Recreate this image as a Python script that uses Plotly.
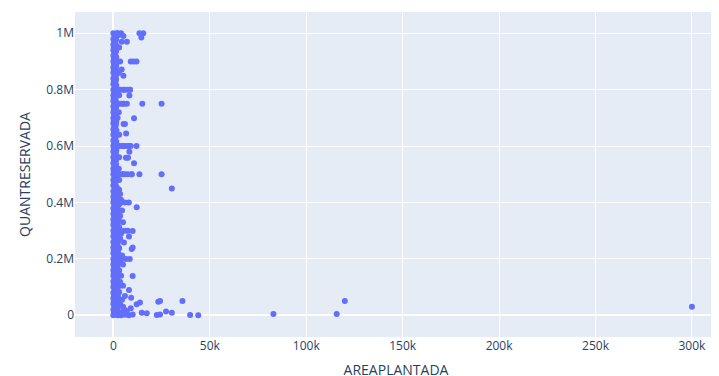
import plotly.graph_objects as go

# Individually visible points (AREAPLANTADA, QUANTRESERVADA)
outlier_x = [13500, 15500, 14500, 5200, 7000, 4300, 9000, 10500, 12000, 3500,
             4300, 5200, 3000, 5500, 8600, 8300, 5000, 15000, 25000, 10700,
             5300, 6000, 6600, 5000, 8000, 12000, 8300, 7600, 6500, 10700,
             5000, 9500, 13500, 25000, 30300, 12100, 10000, 8100, 9500, 10000,
             10000, 8100, 9200, 13800, 12100, 14700, 17300, 23300, 24200, 22500,
             24200, 27300, 30300, 35800, 39800, 44000, 83000, 115800, 120000, 300000]
outlier_y = [1000000, 1000000, 985000, 990000, 970000, 970000, 900000, 900000, 900000, 900000,
             872000, 849000, 800000, 800000, 800000, 779000, 750000, 750000, 750000, 699000,
             678000, 678000, 645000, 600000, 600000, 600000, 580000, 559000, 559000, 539000,
             500000, 500000, 500000, 500000, 450000, 383000, 299000, 279000, 235000, 240000,
             139000, 90000, 62000, 45000, 39000, 9000, 7000, 48000, 51000, 1000,
             3000, 13000, 9000, 51000, 1000, 0, 5000, 5000, 51000, 30000]

# Dense band near zero planted area
band0_x = [0, 300, 0, 500, 0, 200, 0, 400, 0, 600, 0, 300, 0, 500, 0, 200, 0, 400, 0, 300,
           0, 500, 0, 200, 0, 400, 0, 600, 0, 300, 0, 500, 0, 200, 0, 400, 0, 300, 0, 500,
           0, 200, 0, 400, 0, 600, 0, 300, 0, 500, 0, 200, 0, 400, 0, 300, 0, 500, 0, 200,
           0, 400, 0, 600, 0, 300, 0, 500, 0, 200, 0, 400, 0, 300, 0, 500, 0, 200, 0, 400,
           0, 600, 0, 300, 0, 500, 0, 200, 0, 400, 0, 300, 0, 500, 0, 200, 0, 400, 0, 600, 0]
band0_y = [0, 10000, 20000, 30000, 40000, 50000, 60000, 70000, 80000, 90000,
           100000, 110000, 120000, 130000, 140000, 150000, 160000, 170000, 180000, 190000,
           200000, 210000, 220000, 230000, 240000, 250000, 260000, 270000, 280000, 290000,
           300000, 310000, 320000, 330000, 340000, 350000, 360000, 370000, 380000, 390000,
           400000, 410000, 420000, 430000, 440000, 450000, 460000, 470000, 480000, 490000,
           500000, 510000, 520000, 530000, 540000, 550000, 560000, 570000, 580000, 590000,
           600000, 610000, 620000, 630000, 640000, 650000, 660000, 670000, 680000, 690000,
           700000, 710000, 720000, 730000, 740000, 750000, 760000, 770000, 780000, 790000,
           800000, 810000, 820000, 830000, 840000, 850000, 860000, 870000, 880000, 890000,
           900000, 910000, 920000, 930000, 940000, 950000, 960000, 970000, 980000, 990000, 1000000]

band1_x = [1200, 1500, 1000, 1400, 1200, 1600, 1000, 1300, 1500, 1100,
           1200, 1500, 1000, 1400, 1200, 1600, 1000, 1300, 1500, 1100,
           1200, 1500, 1000, 1400, 1200, 1600, 1000, 1300, 1500, 1100,
           1200, 1500, 1000, 1400, 1200, 1600, 1000, 1300, 1500, 1100,
           1200, 1500, 1000, 1400, 1200, 1600, 1000, 1300, 1500, 1100,
           1200, 1500, 1000, 1400, 1200, 1600, 1000, 1300, 1500, 1100,
           1200, 1500, 1000, 1400, 1200, 1600, 1000, 1300, 1500, 1100,
           1200, 1500, 1000, 1400, 1200, 1600, 1000, 1300, 1500, 1100,
           1200, 1500, 1000, 1400, 1200, 1600, 1000, 1300, 1500, 1100,
           1200, 1500, 1000, 1400, 1200, 1600, 1000, 1300, 1500, 1100]
band1_y = [5000, 15000, 25000, 35000, 45000, 55000, 65000, 75000, 85000, 95000,
           105000, 115000, 125000, 135000, 145000, 155000, 165000, 175000, 185000, 195000,
           205000, 215000, 225000, 235000, 245000, 255000, 265000, 275000, 285000, 295000,
           305000, 315000, 325000, 335000, 345000, 355000, 365000, 375000, 385000, 395000,
           405000, 415000, 425000, 435000, 445000, 455000, 465000, 475000, 485000, 495000,
           505000, 515000, 525000, 535000, 545000, 555000, 565000, 575000, 585000, 595000,
           605000, 615000, 625000, 635000, 645000, 655000, 665000, 675000, 685000, 695000,
           705000, 715000, 725000, 735000, 745000, 755000, 765000, 775000, 785000, 795000,
           805000, 815000, 825000, 835000, 845000, 855000, 865000, 875000, 885000, 895000,
           905000, 915000, 925000, 935000, 945000, 955000, 965000, 975000, 985000, 995000]

band2_x = [2200, 2600, 2000, 2400, 2800, 2100, 2500, 2300, 2700, 2000,
           2400, 2200, 2600, 2000, 2500, 2300, 2800, 2100, 2400, 2600,
           2000, 2300, 2500, 2200, 2700, 2100, 2400, 2000, 2600, 2300,
           2500, 2200, 2000, 2400, 2700, 2100, 2300, 2500, 2000, 2600,
           2200, 2400, 2100, 2500, 2300, 2000,
           2200, 2500, 2200, 2400, 2300, 2200, 2000]
band2_y = [0, 10000, 20000, 30000, 40000, 50000, 60000, 70000, 80000, 90000,
           100000, 110000, 120000, 130000, 140000, 150000, 160000, 170000, 180000, 190000,
           200000, 210000, 220000, 230000, 240000, 250000, 260000, 270000, 280000, 290000,
           300000, 310000, 320000, 330000, 340000, 350000, 360000, 370000, 380000, 390000,
           400000, 410000, 420000, 430000, 440000, 450000,
           500000, 600000, 700000, 750000, 800000, 900000, 1000000]

edge_x = [4000, 5500, 3500, 4500, 6000, 3000, 5000, 3500, 4000, 3000,
          5000, 3500, 4500, 3000, 5500, 3500, 4000, 3000, 5000, 3500,
          4500, 3000, 4000, 3500, 3000, 3000, 2800, 3000, 3000, 2800,
          3000, 2800, 3000,
          4000, 6000, 8000, 10000, 7000, 9000, 5000,
          3000, 4500, 6000, 7500, 9500,
          3000, 4500, 6000, 7500, 9000,
          2500, 4000, 5500, 7000, 8600,
          2500, 4000, 5500, 7000,
          2000, 3000, 4000,
          4000, 6000, 8000,
          4000, 6000, 7500,
          4500, 6500, 8500]
edge_y = [10000, 22000, 38000, 55000, 68000, 83000, 105000, 118000, 140000, 158000,
          180000, 196000, 212000, 238000, 258000, 272000, 290000, 312000, 330000, 352000,
          372000, 395000, 410000, 430000, 445000, 480000, 520000, 560000, 640000, 720000,
          780000, 860000, 950000,
          0, 2000, 0, 3000, 15000, 25000, 30000,
          500000, 500000, 500000, 500000, 500000,
          600000, 600000, 600000, 600000, 600000,
          800000, 800000, 800000, 800000, 800000,
          750000, 750000, 750000, 750000,
          1000000, 995000, 1000000,
          400000, 400000, 400000,
          300000, 300000, 300000,
          200000, 200000, 200000]

AREAPLANTADA = outlier_x + band0_x + band1_x + band2_x + edge_x
QUANTRESERVADA = outlier_y + band0_y + band1_y + band2_y + edge_y

fig = go.Figure(go.Scatter(
    x=AREAPLANTADA, y=QUANTRESERVADA, mode="markers",
    marker=dict(color="#636efa", size=6),
))

fig.update_layout(
    template="plotly",
    width=719, height=376,
    margin=dict(l=67, r=10, t=4, b=47),
    showlegend=False,
    xaxis=dict(title=dict(text="AREAPLANTADA", standoff=12), range=[-19900, 313000],
               automargin=False),
    yaxis=dict(title=dict(text="QUANTRESERVADA", standoff=12), range=[-77000, 1075500],
               automargin=False),
)

fig.write_html("out.html")
